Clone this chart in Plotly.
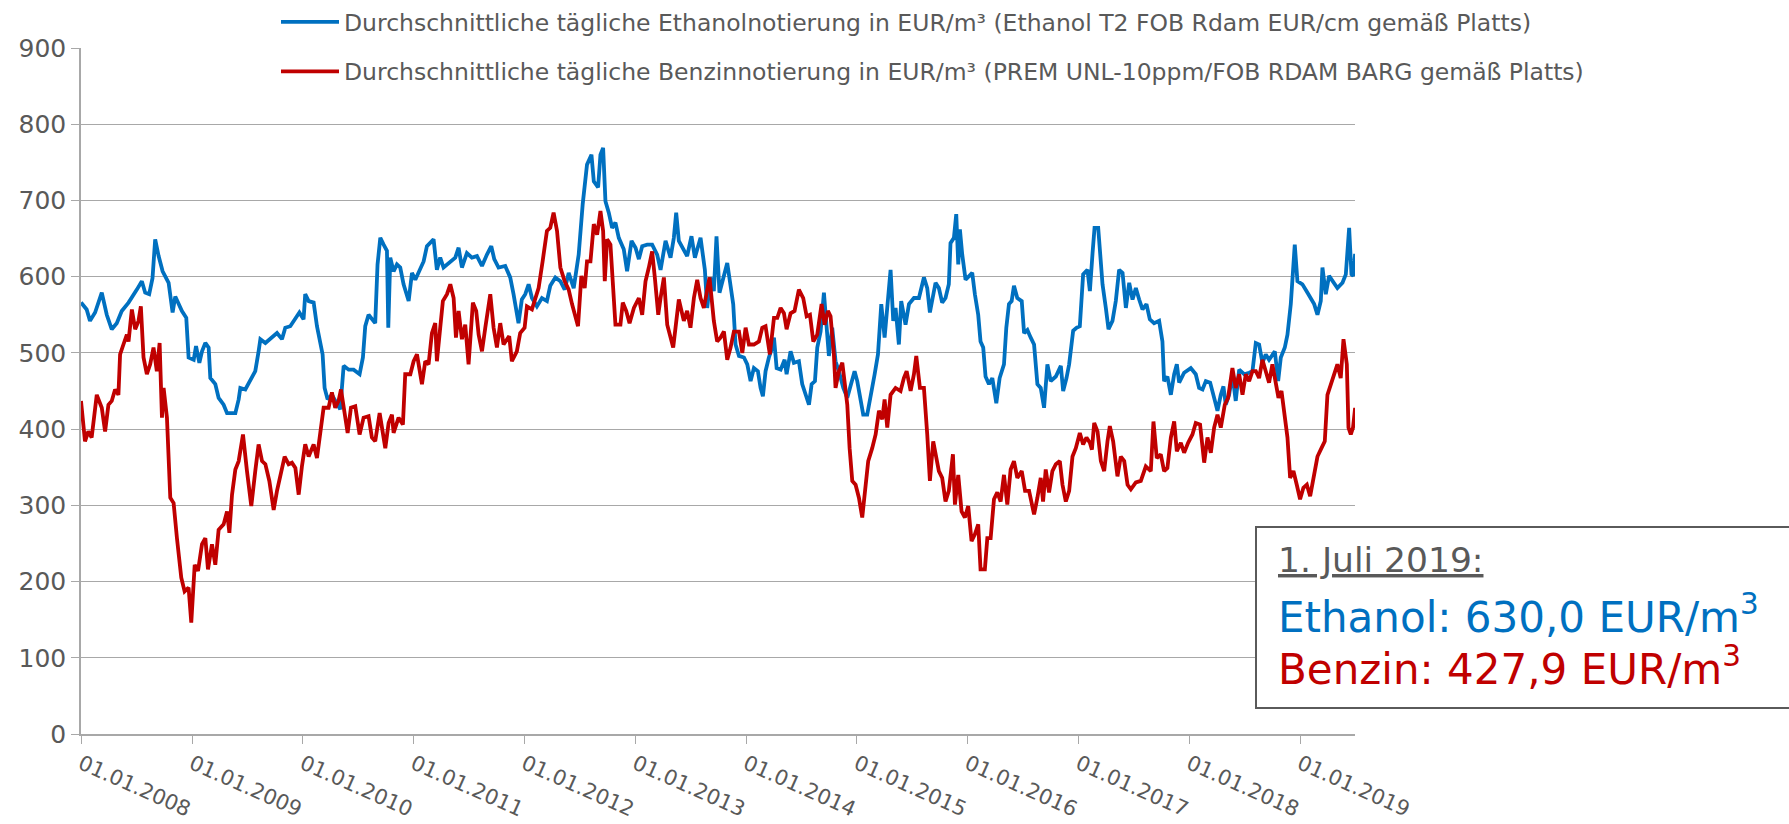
import pandas as pd
import plotly.graph_objects as go

# ---- data (decimal year, EUR/m3) ----
eth_t = [2008.00, 2008.051, 2008.081, 2008.127, 2008.187, 2008.232, 2008.277, 2008.322, 2008.367, 2008.428,
         2008.503, 2008.548, 2008.578, 2008.614, 2008.644, 2008.668, 2008.699, 2008.735, 2008.789, 2008.825,
         2008.849, 2008.909, 2008.948, 2008.969, 2009.015, 2009.036, 2009.066, 2009.090, 2009.120, 2009.150,
         2009.165, 2009.210, 2009.240, 2009.285, 2009.316, 2009.391, 2009.421, 2009.436, 2009.481, 2009.526,
         2009.571, 2009.601, 2009.617, 2009.662, 2009.722, 2009.767, 2009.812, 2009.842, 2009.887, 2009.933,
         2009.969,
         2010.007, 2010.022, 2010.053, 2010.098, 2010.128, 2010.158, 2010.179, 2010.197, 2010.224, 2010.263,
         2010.308, 2010.338, 2010.369, 2010.414, 2010.459, 2010.513, 2010.543, 2010.564, 2010.594, 2010.654,
         2010.675, 2010.700, 2010.730, 2010.760, 2010.772, 2010.790, 2010.820, 2010.850, 2010.880, 2010.910,
         2010.956, 2010.986, 2011.016, 2011.061, 2011.091, 2011.121, 2011.166, 2011.181, 2011.211, 2011.241,
         2011.271, 2011.317, 2011.377, 2011.407, 2011.437, 2011.482, 2011.527, 2011.573, 2011.618, 2011.663,
         2011.702, 2011.729, 2011.768, 2011.828,
         2011.873, 2011.903, 2011.948, 2011.978, 2012.009, 2012.039, 2012.069, 2012.114, 2012.159, 2012.204,
         2012.234, 2012.280, 2012.325, 2012.364, 2012.400, 2012.445, 2012.490, 2012.526, 2012.565, 2012.605,
         2012.626, 2012.665, 2012.686, 2012.710, 2012.731, 2012.761, 2012.791, 2012.821, 2012.851, 2012.896,
         2012.926, 2012.966, 2013.002, 2013.032, 2013.062, 2013.107, 2013.152, 2013.197, 2013.228, 2013.273,
         2013.318, 2013.348, 2013.369, 2013.393, 2013.438, 2013.468, 2013.507, 2013.538, 2013.589, 2013.628,
         2013.649, 2013.679, 2013.709, 2013.733, 2013.760,
         2013.800, 2013.830, 2013.854, 2013.884, 2013.905, 2013.936, 2013.981, 2014.011, 2014.041, 2014.071,
         2014.107, 2014.131, 2014.152, 2014.176, 2014.206, 2014.237, 2014.252, 2014.276, 2014.312, 2014.348,
         2014.366, 2014.402, 2014.432, 2014.477, 2014.507, 2014.537, 2014.568, 2014.592, 2014.622, 2014.643,
         2014.673, 2014.703, 2014.727, 2014.748, 2014.778, 2014.808, 2014.838, 2014.878, 2014.914, 2014.950,
         2014.980, 2015.004, 2015.034, 2015.058, 2015.094, 2015.130, 2015.161, 2015.191, 2015.221, 2015.251,
         2015.275, 2015.305, 2015.329, 2015.350, 2015.380, 2015.401, 2015.440, 2015.471, 2015.516, 2015.561,
         2015.606, 2015.636, 2015.660, 2015.696,
         2015.711, 2015.741, 2015.771, 2015.801, 2015.831, 2015.846, 2015.877, 2015.898, 2015.916, 2015.931,
         2015.952, 2015.982, 2016.012, 2016.042, 2016.066, 2016.096, 2016.117, 2016.141, 2016.162, 2016.193,
         2016.223, 2016.259, 2016.289, 2016.328, 2016.349, 2016.373, 2016.397, 2016.418, 2016.448, 2016.488,
         2016.509, 2016.539, 2016.569, 2016.599, 2016.629, 2016.659, 2016.689, 2016.719, 2016.749, 2016.795,
         2016.840, 2016.861, 2016.891, 2016.915, 2016.951, 2016.981, 2017.011, 2017.041, 2017.080, 2017.102,
         2017.126, 2017.144, 2017.177, 2017.192, 2017.216, 2017.246, 2017.270, 2017.306, 2017.336, 2017.366,
         2017.397, 2017.427, 2017.457, 2017.487, 2017.517, 2017.547, 2017.577, 2017.613, 2017.643,
         2017.682, 2017.727, 2017.757, 2017.772, 2017.802, 2017.833, 2017.863, 2017.887, 2017.908, 2017.953,
         2018.013, 2018.058, 2018.088, 2018.119, 2018.149, 2018.188, 2018.224, 2018.254, 2018.284, 2018.308,
         2018.329, 2018.359, 2018.389, 2018.419, 2018.450, 2018.495, 2018.540, 2018.570, 2018.600, 2018.630,
         2018.660, 2018.690, 2018.720, 2018.772, 2018.802, 2018.826, 2018.862, 2018.886, 2018.916, 2018.940,
         2018.952, 2018.976, 2019.021, 2019.067, 2019.097, 2019.127, 2019.157, 2019.187, 2019.202, 2019.232,
         2019.262, 2019.292, 2019.337, 2019.383, 2019.413, 2019.443, 2019.464, 2019.480, 2019.497]
eth_v = [566, 557, 542, 553, 579, 550, 531, 539, 555, 566,
         583, 594, 579, 577, 598, 649, 627, 607, 592, 553,
         574, 555, 546, 494, 491, 509, 487, 502, 513, 507,
         467, 459, 441, 432, 421, 421, 439, 454, 452, 463,
         476, 502, 518, 513, 520, 526, 518, 533, 535, 546,
         553,
         544, 577, 568, 566, 535, 515, 498, 454, 439, 445,
         432, 426, 483, 478, 478, 472, 494, 535, 550, 539,
         616, 651, 642, 634, 533, 625, 607, 616, 612, 590,
         568, 605, 596, 612, 620, 640, 647, 649, 609, 625,
         612, 618, 625, 638, 612, 631, 625, 627, 614, 629,
         640, 623, 612, 614,
         599, 577, 539, 570, 577, 590, 572, 561, 572, 568,
         588, 599, 594, 583, 605, 585, 629, 695, 747, 760,
         725, 717, 760, 769, 699, 684, 664, 671, 651, 636,
         607, 647, 638, 623, 640, 642, 642, 629, 609, 647,
         625, 651, 684, 647, 634, 627, 653, 625, 651, 609,
         559, 599, 581, 653, 579,
         599, 618, 594, 564, 511, 496, 494, 485, 463, 480,
         476, 454, 443, 476, 494, 507, 520, 480, 478, 491,
         472, 502, 487, 489, 459, 445, 432, 459, 463, 507,
         528, 579, 533, 496, 533, 489, 476, 454, 441, 463,
         476, 463, 441, 419, 419, 445, 472, 498, 564, 520,
         555, 609, 542, 559, 511, 568, 537, 564, 572, 572,
         599, 585, 553, 585,
         592, 585, 566, 572, 590, 644, 651, 682, 616, 662,
         629, 596, 601, 605, 577, 550, 515, 507, 469, 459,
         467, 434, 467, 485, 533, 564, 568, 588, 572, 568,
         526, 530, 520, 511, 459, 454, 428, 485, 463, 469,
         483, 450, 467, 485, 529, 533, 535, 603, 609, 581,
         631, 664, 664, 638, 590, 559, 531, 542, 568, 609,
         605, 559, 592, 570, 585, 570, 557, 564, 544,
         539, 542, 515, 463, 469, 445, 472, 485, 461, 474,
         480, 472, 454, 452, 463, 461, 441, 424, 445, 456,
         432, 445, 472, 437, 478, 472, 474, 476, 513, 511,
         487, 498, 491, 502, 463, 494, 507, 524, 564, 620,
         642, 594, 590, 579, 572, 564, 550, 568, 612, 577,
         601, 594, 585, 592, 603, 664, 603, 601, 630.0]

ben_t = [2008.00, 2008.036, 2008.066, 2008.096, 2008.142, 2008.187, 2008.217, 2008.247, 2008.277, 2008.307,
         2008.337, 2008.352, 2008.382, 2008.413, 2008.428, 2008.458, 2008.488, 2008.518, 2008.539, 2008.563,
         2008.593, 2008.623, 2008.653, 2008.683, 2008.708, 2008.729, 2008.744, 2008.774, 2008.804, 2008.834,
         2008.864, 2008.903, 2008.933, 2008.969, 2008.993, 2009.024, 2009.054, 2009.090, 2009.120, 2009.144,
         2009.180, 2009.210, 2009.240, 2009.285, 2009.316, 2009.337, 2009.361, 2009.391, 2009.421, 2009.460,
         2009.496, 2009.535, 2009.571, 2009.601, 2009.632, 2009.662, 2009.698, 2009.737, 2009.767, 2009.797,
         2009.836, 2009.872, 2009.902, 2009.933, 2009.963,
         2009.992, 2010.022, 2010.053, 2010.098, 2010.128, 2010.158, 2010.188, 2010.233, 2010.263, 2010.293,
         2010.323, 2010.345, 2010.375, 2010.405, 2010.435, 2010.474, 2010.513, 2010.549, 2010.594, 2010.624,
         2010.654, 2010.694, 2010.745, 2010.775, 2010.805, 2010.820, 2010.865, 2010.904, 2010.925, 2010.971,
         2011.001, 2011.031, 2011.076, 2011.106, 2011.136, 2011.166, 2011.196, 2011.211, 2011.241, 2011.265,
         2011.302, 2011.332, 2011.362, 2011.383, 2011.407, 2011.437, 2011.467, 2011.497, 2011.536, 2011.566,
         2011.588, 2011.618, 2011.648, 2011.693, 2011.723, 2011.753, 2011.783, 2011.813,
         2011.864, 2011.888, 2011.933, 2011.963, 2012.003, 2012.024, 2012.069, 2012.105, 2012.129, 2012.165,
         2012.204, 2012.234, 2012.264, 2012.295, 2012.325, 2012.364, 2012.400, 2012.430, 2012.460, 2012.484,
         2012.514, 2012.544, 2012.565, 2012.596, 2012.626, 2012.656, 2012.686, 2012.710, 2012.725, 2012.746,
         2012.776, 2012.797, 2012.821, 2012.866, 2012.887, 2012.918, 2012.948, 2012.987, 2013.032, 2013.062,
         2013.092, 2013.122, 2013.152, 2013.176, 2013.207, 2013.228, 2013.258, 2013.288, 2013.318, 2013.342,
         2013.363, 2013.393, 2013.438, 2013.468, 2013.498, 2013.529, 2013.559, 2013.589, 2013.619, 2013.640,
         2013.670, 2013.709, 2013.739, 2013.769,
         2013.800, 2013.830, 2013.860, 2013.890, 2013.936, 2013.966, 2013.996, 2014.026, 2014.071, 2014.116,
         2014.146, 2014.176, 2014.215, 2014.252, 2014.282, 2014.312, 2014.342, 2014.366, 2014.402, 2014.438,
         2014.477, 2014.516, 2014.547, 2014.577, 2014.607, 2014.643, 2014.682, 2014.709, 2014.739, 2014.763,
         2014.793, 2014.808, 2014.838, 2014.869, 2014.890, 2014.914, 2014.935, 2014.959, 2014.989, 2015.019,
         2015.049, 2015.073, 2015.103, 2015.139, 2015.170, 2015.200, 2015.230, 2015.251, 2015.275, 2015.305,
         2015.350, 2015.395, 2015.425, 2015.450, 2015.486, 2015.516, 2015.537, 2015.570, 2015.606, 2015.636,
         2015.660, 2015.690,
         2015.711, 2015.741, 2015.771, 2015.801, 2015.831, 2015.868, 2015.886, 2015.916, 2015.946, 2015.976,
         2016.006, 2016.036, 2016.066, 2016.096, 2016.117, 2016.156, 2016.178, 2016.208, 2016.238, 2016.268,
         2016.298, 2016.328, 2016.358, 2016.388, 2016.418, 2016.448, 2016.488, 2016.518, 2016.554, 2016.599,
         2016.629, 2016.659, 2016.680, 2016.704, 2016.734, 2016.764, 2016.795, 2016.831, 2016.855, 2016.885,
         2016.915, 2016.945, 2016.975, 2017.011, 2017.041, 2017.071, 2017.102, 2017.120, 2017.141, 2017.171,
         2017.201, 2017.231, 2017.261, 2017.282, 2017.312, 2017.351, 2017.381, 2017.412, 2017.442, 2017.472,
         2017.517, 2017.562, 2017.607, 2017.637,
         2017.652, 2017.676, 2017.706, 2017.742, 2017.772, 2017.802, 2017.833, 2017.863, 2017.887, 2017.923,
         2017.953, 2017.989, 2018.028, 2018.058, 2018.097, 2018.134, 2018.164, 2018.194, 2018.224, 2018.254,
         2018.284, 2018.320, 2018.350, 2018.389, 2018.419, 2018.450, 2018.480, 2018.510, 2018.540, 2018.570,
         2018.600, 2018.630, 2018.660, 2018.690, 2018.720, 2018.750, 2018.781, 2018.805, 2018.832, 2018.862,
         2018.886, 2018.910, 2018.940, 2018.970, 2019.000, 2019.030, 2019.061, 2019.091, 2019.127, 2019.157,
         2019.193, 2019.223, 2019.247, 2019.277, 2019.307, 2019.337, 2019.367, 2019.392, 2019.422, 2019.437,
         2019.458, 2019.478, 2019.497]
ben_v = [437, 384, 397, 389, 445, 428, 397, 432, 437, 452,
         445, 498, 511, 524, 515, 557, 531, 542, 561, 494,
         472, 485, 507, 476, 513, 415, 454, 415, 310, 303,
         257, 205, 187, 192, 146, 222, 214, 249, 257, 216,
         249, 222, 268, 275, 292, 264, 314, 347, 358, 393,
         345, 299, 345, 380, 358, 354, 332, 294, 319, 340,
         364, 354, 356, 349, 314,
         351, 380, 364, 380, 362, 395, 428, 428, 448, 428,
         437, 452, 419, 395, 428, 430, 393, 415, 417, 389,
         384, 421, 375, 408, 419, 395, 415, 406, 472, 472,
         489, 498, 459, 489, 485, 526, 539, 489, 533, 568,
         577, 590, 572, 520, 555, 518, 537, 485, 566, 555,
         524, 502, 533, 577, 533, 507, 539, 511,
         522, 489, 502, 526, 533, 561, 557, 572, 585, 620,
         660, 664, 684, 660, 612, 594, 583, 564, 548, 535,
         601, 585, 620, 620, 669, 655, 686, 660, 594, 649,
         642, 594, 537, 537, 566, 555, 539, 559, 572, 550,
         594, 612, 633, 599, 550, 572, 599, 537, 520, 507,
         533, 570, 542, 555, 533, 572, 596, 572, 559, 574,
         599, 542, 515, 520,
         528, 491, 507, 528, 528, 500, 533, 511, 511, 515,
         533, 535, 498, 546, 546, 559, 552, 531, 552, 555,
         583, 572, 548, 550, 515, 524, 564, 537, 555, 548,
         498, 454, 476, 487, 459, 432, 375, 332, 327, 310,
         284, 314, 358, 375, 393, 424, 413, 439, 402, 445,
         454, 450, 467, 476, 450, 472, 496, 454, 454, 393,
         332, 384,
         369, 345, 336, 305, 319, 367, 301, 340, 292, 284,
         299, 253, 262, 275, 216, 216, 257, 257, 308, 317,
         305, 340, 301, 347, 358, 336, 345, 319, 319, 288,
         310, 336, 305, 347, 317, 345, 354, 358, 327, 305,
         319, 364, 375, 395, 380, 389, 382, 373, 408, 397,
         358, 345, 384, 404, 384, 338, 364, 358, 327, 321,
         330, 332, 351, 347,
         345, 410, 362, 367, 345, 349, 389, 410, 371, 382,
         369, 382, 393, 408, 406, 356, 389, 369, 402, 419,
         402, 432, 441, 480, 454, 472, 445, 472, 463, 476,
         476, 467, 491, 476, 461, 485, 463, 441, 450, 415,
         389, 336, 345, 327, 308, 323, 327, 312, 340, 364,
         375, 384, 445, 459, 472, 485, 467, 518, 485, 402,
         393, 402, 427.9]

tick_years = list(range(2008, 2020))
tick_labels = [f"01.01.{y}" for y in tick_years]
y_ticks = list(range(0, 1000, 100))

eth_name = "Durchschnittliche tägliche Ethanolnotierung in EUR/m³ (Ethanol T2 FOB Rdam EUR/cm gemäß Platts)"
ben_name = "Durchschnittliche tägliche Benzinnotierung in EUR/m³ (PREM UNL-10ppm/FOB RDAM BARG gemäß Platts)"


def to_date(y):
    yr = int(y)
    start = pd.Timestamp(yr, 1, 1)
    days = (pd.Timestamp(yr + 1, 1, 1) - start).days
    return start + pd.Timedelta(days=(y - yr) * days)


eth_x = [to_date(t) for t in eth_t]
ben_x = [to_date(t) for t in ben_t]

BLUE = "#0070C0"
RED = "#C00000"
GRAY = "#595959"
GRID = "#A8A8A8"
FONT = "DejaVu Sans"

fig = go.Figure()
fig.add_trace(go.Scatter(x=eth_x, y=eth_v, mode="lines", name=eth_name, legendgroup="a",
                         line=dict(color=BLUE, width=3.8)))
fig.add_trace(go.Scatter(x=ben_x, y=ben_v, mode="lines", name=ben_name, legendgroup="b",
                         line=dict(color=RED, width=3.8)))

L, R, T, B = 81, 1789 - 1355, 48, 824 - 734
PW, PH = 1789 - L - R, 824 - T - B


def px(xp):
    return (xp - L) / PW


def py(yp):
    return (824 - B - yp) / PH


fig.update_layout(
    width=1789, height=824,
    margin=dict(l=L, r=R, t=T, b=B, pad=0, autoexpand=False),
    paper_bgcolor="white", plot_bgcolor="white",
    font=dict(family=FONT, color=GRAY),
    showlegend=True,
    legend=dict(x=px(276), y=py(0), xanchor="left", yanchor="top",
                bgcolor="white", borderwidth=0, itemwidth=58,
                font=dict(family=FONT, size=23.5, color=GRAY),
                traceorder="grouped", tracegroupgap=16),
    xaxis=dict(type="date", range=[to_date(2008.0), to_date(2019.4959)],
               tickvals=[pd.Timestamp(y, 1, 1) for y in tick_years], ticktext=tick_labels,
               tickangle=24, tickfont=dict(family=FONT, size=21, color=GRAY),
               showgrid=False, showline=True, linecolor=GRID, linewidth=1.5,
               ticks="outside", ticklen=8, tickcolor=GRID, tickwidth=1.2, zeroline=False),
    yaxis=dict(range=[0, 900], tickvals=y_ticks, tickfont=dict(family=FONT, size=25, color=GRAY),
               showgrid=True, gridcolor=GRID, gridwidth=1.2,
               showline=True, linecolor=GRID, linewidth=1.5,
               ticks="outside", ticklen=8, tickcolor=GRID, tickwidth=1.2, zeroline=False),
    hovermode=False,
)

# annotation box
fig.add_shape(type="rect", xref="paper", yref="paper",
              x0=px(1256), x1=px(1840), y0=py(708), y1=py(527),
              line=dict(color="#5A5A5A", width=2), fillcolor="white", layer="above")
fig.add_annotation(xref="paper", yref="paper", x=px(1276), y=py(560), xanchor="left", yanchor="middle",
                   text="<u>1. Juli 2019:</u>", showarrow=False,
                   font=dict(family=FONT, size=34.5, color=GRAY))
fig.add_annotation(xref="paper", yref="paper", x=px(1276), y=py(614), xanchor="left", yanchor="middle",
                   text="Ethanol: 630,0 EUR/m<sup>3</sup>", showarrow=False,
                   font=dict(family=FONT, size=42, color=BLUE))
fig.add_annotation(xref="paper", yref="paper", x=px(1276), y=py(666), xanchor="left", yanchor="middle",
                   text="Benzin: 427,9 EUR/m<sup>3</sup>", showarrow=False,
                   font=dict(family=FONT, size=42, color=RED))

fig.write_html("out.html", config={"displayModeBar": False},
               post_script="document.body.style.margin='0px';document.body.style.overflow='hidden';")
